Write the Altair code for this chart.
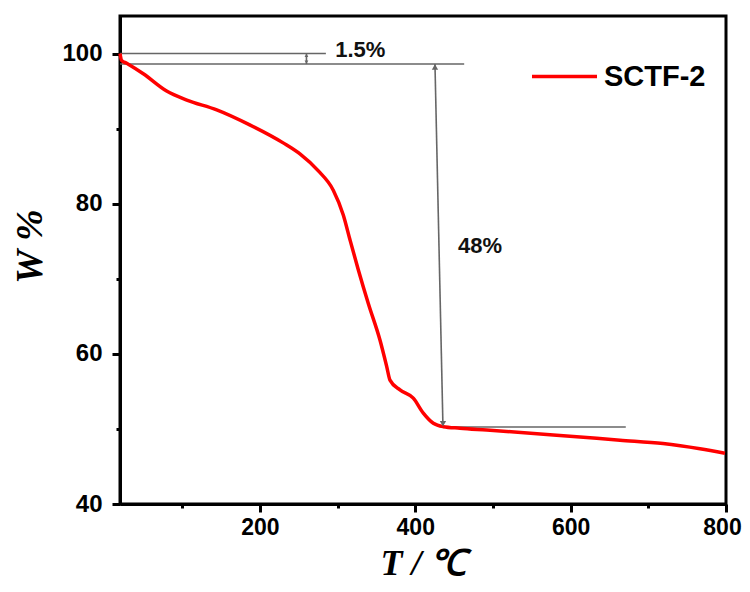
import altair as alt
import pandas as pd

# TGA curve
temp = [20, 22, 28.6, 50, 80, 106, 144.5, 187, 230, 252, 275, 294.5, 307.4, 316.0,
        326.7, 339.6, 354.7, 363.3, 367.5, 380.4, 397.5, 410.4, 423.3, 436.1, 457.6,
        492.0, 577.7, 663.6, 719.0, 766.5, 798.7]
weight = [100.0, 99.1, 98.7, 97.3, 95.0, 93.8, 92.5, 90.5, 88.1, 86.6, 84.4, 81.8, 78.5,
          75.2, 71.2, 66.7, 61.8, 58.3, 56.5, 55.2, 54.1, 52.1, 50.75, 50.3, 50.1,
          49.85, 49.2, 48.5, 48.05, 47.35, 46.75]
series_name = "SCTF-2"

# annotation lines (T, T2, W, W2)
ann_t1 = [20, 20, 260, 425.4, 436]
ann_t2 = [285, 463, 260, 435.7, 671]
ann_w1 = [100, 98.6, 100, 98.6, 50.25]
ann_w2 = [100, 98.6, 98.6, 50.3, 50.25]

# arrow heads
head_t = [260, 260, 425.4, 435.7]
head_w = [99.75, 98.85, 98.2, 50.7]
head_shape = ["triangle-up", "triangle-down", "triangle-up", "triangle-down"]
head_size = [14, 14, 40, 40]

# labels
lab_t = [297, 455]
lab_w = [100.5, 74.4]
lab_text = ["1.5%", "48%"]

curve = pd.DataFrame({"T": temp, "W": weight, "series": series_name})
ann = pd.DataFrame({"T": ann_t1, "T2": ann_t2, "W": ann_w1, "W2": ann_w2})
heads = pd.DataFrame({"T": head_t, "W": head_w, "shape": head_shape, "size": head_size})
labs = pd.DataFrame({"T": lab_t, "W": lab_w, "text": lab_text})

xscale = alt.Scale(domain=[20, 800], nice=False, zero=False)
yscale = alt.Scale(domain=[40, 105], nice=False, zero=False)

tick_font = "Liberation Sans"
title_font = "Liberation Serif"

x_axis = alt.Axis(
    title="T / ℃", values=[100, 200, 300, 400, 500, 600, 700, 800],
    labelExpr="datum.value % 200 === 0 ? datum.label : ''",
    tickSize={"condition": {"test": "datum.value % 200 === 0", "value": 8}, "value": 4},
    labelOffset={"condition": {"test": "datum.value === 800", "value": -4}, "value": 0},
    grid=False, labelFont=tick_font, labelFontSize=23, labelFontWeight="bold",
    labelColor="black", labelPadding=4, domainColor="black", domainWidth=3,
    tickColor="black", tickWidth=3, titleFont=title_font, titleFontSize=36,
    titleFontStyle="italic", titleFontWeight="bold", titleColor="black",
    titlePadding=7, labelFlush=False,
)
y_axis = alt.Axis(
    title="W %", values=[40, 50, 60, 70, 80, 90, 100],
    labelExpr="datum.value % 20 === 0 ? datum.label : ''",
    tickSize={"condition": {"test": "datum.value % 20 === 0", "value": 8}, "value": 4},
    grid=False, labelFont=tick_font, labelFontSize=24, labelFontWeight="bold",
    labelColor="black", labelPadding=10, domainColor="black", domainWidth=3,
    tickColor="black", tickWidth=3, titleFont=title_font, titleFontSize=38,
    titleFontStyle="italic", titleFontWeight="bold", titleColor="black",
    titlePadding=12, titleY=230, labelFlush=False,
)

X = alt.X("T:Q", scale=xscale, axis=x_axis)
Y = alt.Y("W:Q", scale=yscale, axis=y_axis)

line = alt.Chart(curve).mark_line(strokeWidth=3.5, interpolate="monotone").encode(
    x=X, y=Y,
    color=alt.Color("series:N", scale=alt.Scale(range=["#ff0000"]),
                    legend=alt.Legend(title=None, orient="none", legendX=410, legendY=26,
                                      symbolType="stroke", symbolSize=4225,
                                      symbolStrokeWidth=3.5, labelFont=tick_font,
                                      labelFontSize=29, labelFontWeight="bold",
                                      labelColor="black", labelOffset=5, padding=0)),
)

rules = alt.Chart(ann).mark_rule(color="#666666", strokeWidth=1.6).encode(
    x=X, x2="T2:Q", y=Y, y2="W2:Q",
)

arrow_heads = alt.Chart(heads).mark_point(filled=True, color="#666666", opacity=1).encode(
    x=X, y=Y,
    shape=alt.Shape("shape:N", scale=None, legend=None),
    size=alt.Size("size:Q", scale=None, legend=None),
)

texts = alt.Chart(labs).mark_text(font=tick_font, fontSize=22, fontWeight="bold",
                                  color="#111111", align="left", baseline="middle").encode(
    x=X, y=Y, text="text:N",
)

chart = alt.layer(rules, line, arrow_heads, texts).properties(
    width=606, height=488, autosize="none",
    padding={"left": 112, "top": 8, "right": 16, "bottom": 80},
).configure(background="white").configure_view(stroke="black", strokeWidth=3)

chart.save("out.html", embed_options={"renderer": "svg", "actions": False})
